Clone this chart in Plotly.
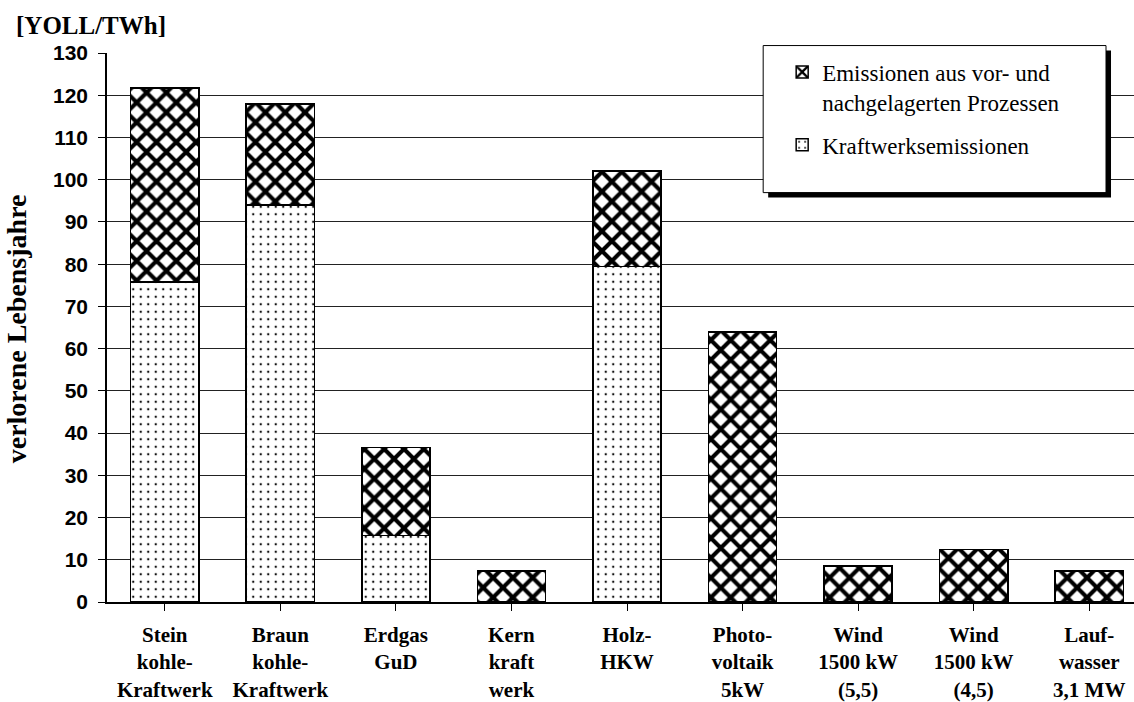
import plotly.graph_objects as go

categories = [
    "Stein<br>kohle-<br>Kraftwerk",
    "Braun<br>kohle-<br>Kraftwerk",
    "Erdgas<br>GuD<br> ",
    "Kern<br>kraft<br>werk",
    "Holz-<br>HKW<br> ",
    "Photo-<br>voltaik<br>5kW",
    "Wind<br>1500 kW<br>(5,5)",
    "Wind<br>1500 kW<br>(4,5)",
    "Lauf-<br>wasser<br>3,1 MW",
]
kraftwerk = [75.8, 94.0, 15.8, 0.0, 79.5, 0.0, 0.0, 0.0, 0.0]
vor_nach = [45.9, 23.9, 20.8, 7.3, 22.6, 63.9, 8.5, 12.4, 7.3]
y_ticks = list(range(0, 131, 10))

W, H = 1134, 702
ML, MR, MT, MB = 106.5, 0, 52.5, 97
PW, PH = W - ML - MR, H - MT - MB


def px_x(x):
    return (x - ML) / PW


def px_y(y):
    return (H - MB - y) / PH


x_idx = list(range(len(categories)))

fig = go.Figure()
fig.add_trace(go.Bar(
    x=x_idx, y=kraftwerk, name="Kraftwerksemissionen",
    width=0.59, legendgroup="b", legendrank=2,
    marker=dict(color="white", line=dict(color="black", width=1.5),
                pattern=dict(shape=".", size=7.5, solidity=0.08,
                             fgcolor="#111111", bgcolor="white", fgopacity=1)),
))
fig.add_trace(go.Bar(
    x=x_idx, y=vor_nach, name="Emissionen aus vor- und<br>nachgelagerten Prozessen",
    width=0.59, legendgroup="a", legendrank=1,
    marker=dict(color="white", line=dict(color="black", width=1.5),
                pattern=dict(shape="x", size=14, solidity=0.5,
                             fgcolor="black", bgcolor="white", fgopacity=1)),
))

# legend box with shadow
off = 5
fig.add_shape(type="rect", xref="paper", yref="paper",
              x0=px_x(763 + off), x1=px_x(1106 + off), y0=px_y(193 + off), y1=px_y(45 + off),
              fillcolor="black", line=dict(width=0))
fig.add_shape(type="rect", xref="paper", yref="paper",
              x0=px_x(763), x1=px_x(1106), y0=px_y(193), y1=px_y(45),
              fillcolor="white", line=dict(color="black", width=1))

fig.add_annotation(text="<b>[YOLL/TWh]</b>", xref="paper", yref="paper",
                   x=px_x(13), y=px_y(25), xanchor="left", yanchor="middle",
                   showarrow=False, font=dict(family="Liberation Serif", size=25, color="black"))
fig.add_annotation(text="<b>verlorene Lebensjahre</b>", xref="paper", yref="paper",
                   x=px_x(16), y=px_y(330), xanchor="center", yanchor="middle", textangle=-90,
                   showarrow=False, font=dict(family="Liberation Serif", size=28, color="black"))

fig.update_layout(
    width=W, height=H,
    margin=dict(l=ML, r=MR, t=MT, b=MB, pad=0),
    barmode="stack",
    plot_bgcolor="white", paper_bgcolor="white",
    showlegend=True,
    legend=dict(x=px_x(782), y=px_y(50), xanchor="left", yanchor="top",
                bgcolor="rgba(0,0,0,0)", borderwidth=0, traceorder="grouped",
                tracegroupgap=10, itemwidth=30, valign="top",
                font=dict(family="Liberation Serif", size=23, color="black")),
    xaxis=dict(
        tickmode="array", tickvals=x_idx,
        ticktext=["<b>" + c.replace("<br>", "</b><br><b>") + "</b>" for c in categories],
        range=[-0.5, 8.5 - 13 / 115.6],
        tickson="boundaries", ticks="outside", ticklen=7, tickcolor="black", tickwidth=1,
        showline=True, linecolor="black", linewidth=1.5,
        showgrid=False, ticklabelstandoff=6,
        tickfont=dict(family="Liberation Serif", size=21, color="black", weight="bold"),
    ),
    yaxis=dict(
        range=[0, 130], tickvals=y_ticks, ticks="outside", ticklen=7,
        tickcolor="black", tickwidth=1,
        showline=True, linecolor="black", linewidth=1.5,
        showgrid=True, gridcolor="#222222", gridwidth=1,
        ticklabelstandoff=6,
        tickfont=dict(family="Liberation Sans", size=21, color="black", weight="bold"),
    ),
)

fig.write_html("out.html", config={"displayModeBar": False},
               post_script="document.body.style.margin='0';document.body.style.overflow='hidden';")
